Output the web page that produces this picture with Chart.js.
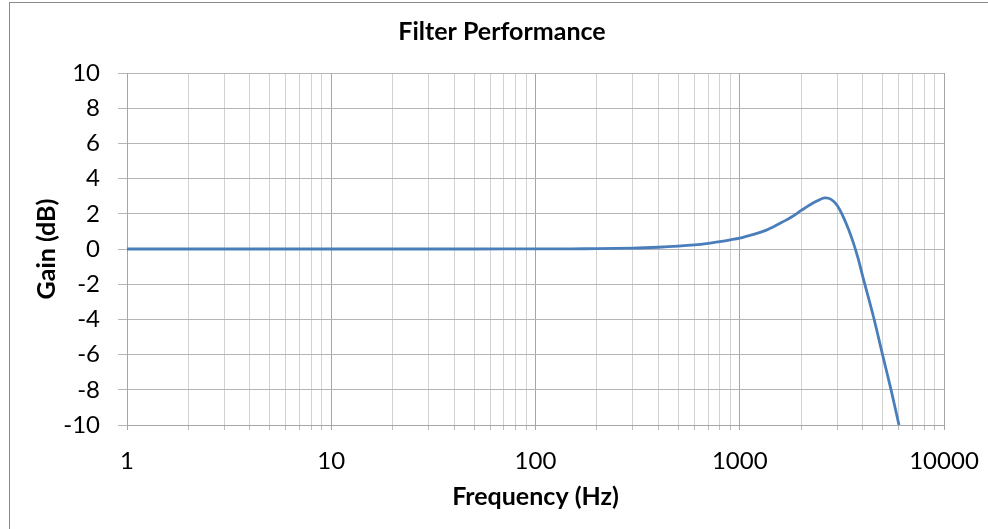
<!DOCTYPE html>
<html>
<head>
<meta charset="utf-8">
<script src="https://cdn.jsdelivr.net/npm/chart.js@4/dist/chart.umd.min.js"></script>
<style>
  html, body { margin: 0; padding: 0; background: #ffffff; overflow: hidden; }
  #wrap { position: relative; width: 988px; height: 529px; }
  #frame { position: absolute; left: 9px; top: 2px; width: 1200px; height: 800px;
           border-left: 1px solid #8a8a8a; border-top: 1px solid #8a8a8a; pointer-events: none; }
  canvas { position: absolute; left: 0; top: 0; }
</style>
</head>
<body>
<div id="wrap">
  <canvas id="c" width="988" height="529"></canvas>
  <div id="frame"></div>
</div>
<script>
// ---- data ----
const frequencies = [1, 2, 5, 10, 20, 50, 100, 150, 200, 300, 400, 500, 600, 700, 800, 900,
                     1000, 1100, 1200, 1300, 1400, 1500, 1600, 1800, 2000, 2200, 2400, 2600,
                     2800, 3000, 3200, 3400, 3600, 3800, 4000, 4500, 5000, 5500, 6020];
const gains = [0, 0, 0, 0, 0, 0, 0.01, 0.01, 0.02, 0.05, 0.1, 0.16, 0.23, 0.32, 0.42, 0.52,
               0.62, 0.75, 0.87, 1.0, 1.16, 1.33, 1.5, 1.83, 2.19, 2.5, 2.74, 2.9,
               2.82, 2.47, 1.87, 1.15, 0.35, -0.55, -1.55, -3.78, -6.0, -7.98, -10];
const xDecadeTicks = [1, 10, 100, 1000, 10000];
const yTickValues = [-10, -8, -6, -4, -2, 0, 2, 4, 6, 8, 10];
const chartTitle = 'Filter Performance';
const xAxisTitle = 'Frequency (Hz)';
const yAxisTitle = 'Gain (dB)';
const seriesName = 'Gain';

const points = frequencies.map((f, i) => ({ x: f, y: gains[i] }));

const FONT = "Lato, 'Open Sans', 'DejaVu Sans', sans-serif";
const isDecade = v => xDecadeTicks.indexOf(v) !== -1;

// chart title, drawn centred on the whole chart box (as in the reference)
const titlePlugin = {
  id: 'pageTitle',
  afterDraw(chart) {
    const ctx = chart.ctx;
    ctx.save();
    ctx.font = "bold 25px " + FONT;
    ctx.fillStyle = '#000000';
    ctx.textAlign = 'center';
    ctx.textBaseline = 'alphabetic';
    ctx.fillText(chartTitle, 502, 40);
    ctx.restore();
  }
};

new Chart(document.getElementById('c'), {
  type: 'line',
  data: {
    datasets: [{
      label: seriesName,
      data: points,
      borderColor: '#4a7ebb',
      backgroundColor: '#4a7ebb',
      borderWidth: 2.8,
      pointRadius: 0,
      pointHoverRadius: 0,
      fill: false,
      tension: 0.35
    }]
  },
  options: {
    responsive: false,
    animation: false,
    devicePixelRatio: 1,
    layout: { padding: { top: 73, right: 44, bottom: 0, left: 0 } },
    plugins: {
      legend: { display: false },
      tooltip: { enabled: false },
      title: { display: false }
    },
    scales: {
      x: {
        type: 'logarithmic',
        min: 1,
        max: 10000,
        afterBuildTicks: (scale) => {
          const t = [];
          xDecadeTicks.forEach((d, i) => {
            if (i === xDecadeTicks.length - 1) { t.push({ value: d, major: true }); return; }
            for (let k = 1; k <= 9; k++) t.push({ value: d * k, major: k === 1 });
          });
          scale.ticks = t;
        },
        afterFit: (scale) => {
          scale.height = 104;
          scale.paddingLeft = 0;
          scale.paddingRight = 0;
        },
        ticks: {
          autoSkip: false,
          maxRotation: 0,
          minRotation: 0,
          padding: 17,
          color: '#000000',
          font: { family: FONT, size: 24 },
          callback: (v) => isDecade(v) ? String(v) : ''
        },
        grid: {
          drawTicks: true,
          tickLength: 5,
          lineWidth: 1,
          color: (ctx) => (ctx.tick && isDecade(ctx.tick.value)) ? '#a6a6a6' : '#d2d2d2',
          tickColor: (ctx) => (ctx.tick && isDecade(ctx.tick.value)) ? '#a6a6a6' : '#bdbdbd'
        },
        border: { display: true, color: '#a6a6a6', width: 1 },
        title: {
          display: true,
          text: xAxisTitle,
          color: '#000000',
          font: { family: FONT, size: 25, weight: 'bold', lineHeight: 1.2 },
          padding: { top: 0, bottom: 17 }
        }
      },
      y: {
        type: 'linear',
        min: -10,
        max: 10,
        afterBuildTicks: (scale) => { scale.ticks = yTickValues.map(v => ({ value: v })); },
        afterFit: (scale) => {
          scale.width = 127;
          scale.paddingTop = 0;
          scale.paddingBottom = 0;
        },
        ticks: {
          padding: 18,
          color: '#000000',
          font: { family: FONT, size: 24 },
          callback: (v) => String(v)
        },
        grid: {
          drawTicks: true,
          tickLength: 9,
          lineWidth: 1,
          color: '#b5b5b5',
          tickColor: '#b5b5b5'
        },
        border: { display: true, color: '#a6a6a6', width: 1 },
        title: {
          display: true,
          text: yAxisTitle,
          color: '#000000',
          font: { family: FONT, size: 25, weight: 'bold', lineHeight: 1.2 },
          padding: { top: 32, bottom: 0 }
        }
      }
    }
  },
  plugins: [titlePlugin]
});
</script>
</body>
</html>
